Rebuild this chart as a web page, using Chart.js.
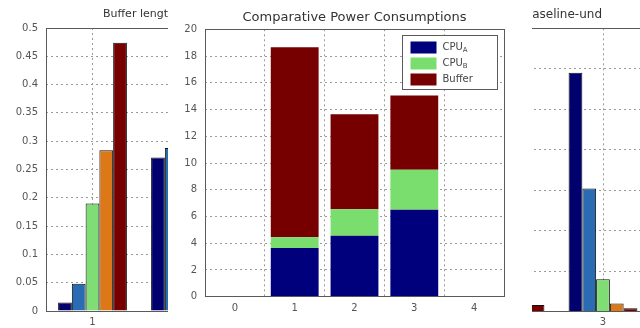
<!DOCTYPE html>
<html>
<head>
<meta charset="utf-8">
<script src="https://cdn.jsdelivr.net/npm/chart.js@4.4.1/dist/chart.umd.min.js"></script>
<style>
  html, body { margin: 0; padding: 0; background: #fff; }
  body { width: 640px; height: 328px; overflow: hidden; position: relative; }
  canvas { position: absolute; top: 0; display: block; }
  #leftChart { left: 0; z-index: 1; }
  #rightChart { left: 420px; z-index: 1; }
  #inset { position: absolute; left: 168px; top: 0; width: 364px; height: 328px; background: #fff; z-index: 2; }
  #inset canvas { left: 0; }
</style>
</head>
<body>
<canvas id="leftChart" width="260" height="328"></canvas>
<canvas id="rightChart" width="286" height="328"></canvas>
<div id="inset"><canvas id="powerChart" width="364" height="328"></canvas></div>
<script>
// ---- Buffer length panel (five configurations per run) ----
const bufferRuns = ['1', '2'];
const bufferCfg1 = [0.015, 0.271];
const bufferCfg2 = [0.048, 0.288];
const bufferCfg3 = [0.19, null];
const bufferCfg4 = [0.284, null];
const bufferCfg5 = [0.474, null];

// ---- Baseline panel (five configurations per run) ----
const baselineRuns = ['2', '3'];
const baselineCfg1 = [null, 0.295];
const baselineCfg2 = [null, 0.152];
const baselineCfg3 = [null, 0.04];
const baselineCfg4 = [null, 0.010];
const baselineCfg5 = [0.008, 0.004];

// ---- Comparative power consumptions (stacked) ----
const powerCases = [1, 2, 3];
const powerCpuA = [3.65, 4.55, 6.5];
const powerCpuB = [0.8, 2.0, 3.0];
const powerBuffer = [14.2, 7.1, 5.55];
const powerLabels = ['CPU_A', 'CPU_B', 'Buffer'];

// ---- styling ----
const groupColors = ['#00006e', '#2a6cb4', '#80dc74', '#dc7818', '#760000'];
const stackColors = ['#00007c', '#7ade6e', '#760000'];
const gridColor = '#9a9a9a';
const tickColor = '#555';
const frameColor = '#5a5a5a';

Chart.defaults.font.family = '"DejaVu Sans", sans-serif';
Chart.defaults.color = tickColor;

// Box around the plot area, drawn on top of the bars
const frame = {
  id: 'frame',
  afterDatasetsDraw(chart) {
    const { ctx, chartArea: a } = chart;
    ctx.save();
    ctx.strokeStyle = frameColor;
    ctx.lineWidth = 1;
    ctx.strokeRect(Math.round(a.left) + 0.5, Math.round(a.top) + 0.5,
                   Math.round(a.right - a.left), Math.round(a.bottom - a.top));
    ctx.restore();
  }
};

// Boxed legend inside the top-right corner; "X_Y" labels get a subscript
const subLegend = {
  id: 'subLegend',
  afterDraw(chart) {
    const { ctx, chartArea: a } = chart;
    const w = 95, h = 54;
    const x0 = Math.round(a.right - 7 - w) + 0.5;
    const y0 = Math.round(a.top + 6) + 0.5;
    ctx.save();
    ctx.fillStyle = '#fff';
    ctx.fillRect(x0, y0, w, h);
    ctx.strokeStyle = frameColor;
    ctx.lineWidth = 1;
    ctx.strokeRect(x0, y0, w, h);
    ctx.textBaseline = 'middle';
    chart.data.datasets.forEach((ds, i) => {
      const cy = y0 + 12 + i * 16;
      ctx.fillStyle = ds.backgroundColor;
      ctx.fillRect(x0 + 8, cy - 6, 26, 12);
      const [main, sub] = ds.label.split('_');
      ctx.fillStyle = '#444';
      ctx.font = '10px "DejaVu Sans"';
      ctx.fillText(main, x0 + 40, cy);
      if (sub) {
        const mw = ctx.measureText(main).width;
        ctx.font = '7px "DejaVu Sans"';
        ctx.fillText(sub, x0 + 40 + mw, cy + 3);
      }
    });
    ctx.restore();
  }
};

const decimalTick = v => String(+Number(v).toFixed(2));

function groupedBars(series) {
  return series.map((d, i) => ({
    data: d,
    backgroundColor: groupColors[i],
    borderColor: '#111',
    borderWidth: 1,
    borderSkipped: 'start'
  }));
}

function baseOptions() {
  return {
    responsive: false,
    animation: false,
    devicePixelRatio: 1,
    events: [],
    plugins: { legend: { display: false }, tooltip: { enabled: false } }
  };
}

// ---- left panel ----
new Chart(document.getElementById('leftChart'), {
  type: 'bar',
  data: {
    labels: bufferRuns,
    datasets: groupedBars([bufferCfg1, bufferCfg2, bufferCfg3, bufferCfg4, bufferCfg5])
  },
  options: Object.assign(baseOptions(), {
    layout: { padding: { left: 0, right: 28, top: 0, bottom: 0 } },
    datasets: { bar: { categoryPercentage: 0.74, barPercentage: 1 } },
    plugins: {
      legend: { display: false }, tooltip: { enabled: false },
      title: { display: true, text: 'Buffer length', fullSize: false, color: '#333',
               font: { size: 11, weight: 'normal' }, padding: { top: 8, bottom: 6.8 } }
    },
    scales: {
      x: {
        grid: { offset: false, color: gridColor, drawTicks: false },
        border: { display: false, dash: [2, 3] },
        ticks: { padding: 5, font: { size: 10 } },
        afterFit(s) { s.height = 17; }
      },
      y: {
        min: 0, max: 0.5,
        grid: { color: gridColor, drawTicks: false },
        border: { display: false, dash: [2, 3] },
        ticks: { stepSize: 0.05, padding: 8, font: { size: 10 }, callback: decimalTick },
        afterFit(s) { s.width = 46; }
      }
    }
  }),
  plugins: [frame]
});

// ---- right panel ----
new Chart(document.getElementById('rightChart'), {
  type: 'bar',
  data: {
    labels: baselineRuns,
    datasets: groupedBars([baselineCfg1, baselineCfg2, baselineCfg3, baselineCfg4, baselineCfg5])
  },
  options: Object.assign(baseOptions(), {
    layout: { padding: 0 },
    datasets: { bar: { categoryPercentage: 0.74, barPercentage: 1 } },
    plugins: {
      legend: { display: false }, tooltip: { enabled: false },
      title: { display: true, text: 'Baseline-und', color: '#333',
               font: { size: 12, weight: 'normal' }, padding: { top: 8, bottom: 5.9 } }
    },
    scales: {
      x: {
        grid: { offset: false, color: gridColor, drawTicks: false },
        border: { display: false, dash: [2, 3] },
        ticks: { padding: 5, font: { size: 10 } },
        afterFit(s) { s.height = 16.5; }
      },
      y: {
        min: 0, max: 0.35,
        grid: { color: gridColor, drawTicks: false },
        border: { display: false, dash: [2, 3] },
        ticks: { stepSize: 0.05, padding: 8, font: { size: 10 }, callback: decimalTick },
        afterFit(s) { s.width = 43.5; }
      },
      y2: {
        type: 'linear', position: 'right',
        grid: { display: false, drawTicks: false },
        border: { display: false },
        ticks: { display: false },
        afterFit(s) { s.width = 56.5; }
      }
    }
  }),
  plugins: [frame]
});

// ---- inset: comparative power consumptions ----
const stackSeries = [powerCpuA, powerCpuB, powerBuffer];
new Chart(document.getElementById('powerChart'), {
  type: 'bar',
  data: {
    datasets: stackSeries.map((vals, i) => ({
      label: powerLabels[i],
      data: powerCases.map((c, j) => ({ x: c, y: vals[j] })),
      backgroundColor: stackColors[i],
      borderWidth: 0,
      grouped: false,
      barPercentage: 0.8,
      categoryPercentage: 1
    }))
  },
  options: Object.assign(baseOptions(), {
    layout: { padding: { left: 0, right: 28, top: 0, bottom: 0 } },
    plugins: {
      legend: { display: false }, tooltip: { enabled: false },
      title: { display: true, text: 'Comparative Power Consumptions', fullSize: false, color: '#333',
               font: { size: 13, weight: 'normal' }, padding: { top: 10, bottom: 3.7 } }
    },
    scales: {
      x: {
        type: 'linear', min: 0, max: 4,
        grid: { color: gridColor, drawTicks: false },
        border: { display: false, dash: [2, 3] },
        ticks: { stepSize: 1, padding: 6, font: { size: 10 } },
        afterFit(s) { s.height = 31.3; }
      },
      y: {
        stacked: true, min: 0, max: 20,
        grid: { color: gridColor, drawTicks: false },
        border: { display: false, dash: [2, 3] },
        ticks: { stepSize: 2, padding: 8, font: { size: 10 } },
        afterFit(s) { s.width = 37; }
      }
    }
  }),
  plugins: [frame, subLegend]
});
</script>
</body>
</html>
